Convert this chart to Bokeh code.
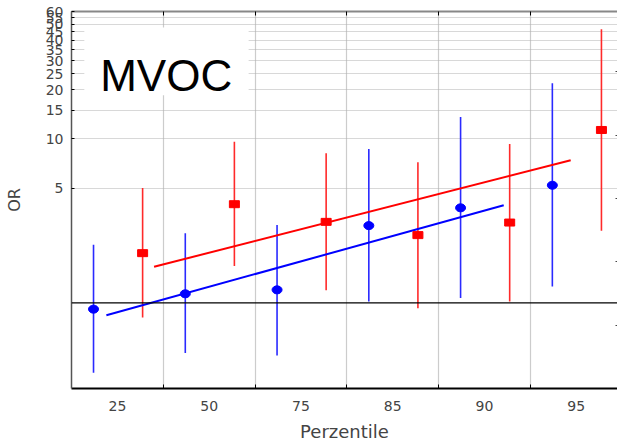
from bokeh.plotting import figure
from bokeh.models import (Range1d, FixedTicker, Span, Label, LinearAxis,
                          LinearScale, BoxAnnotation)
from bokeh.embed import file_html
from bokeh.resources import INLINE

# ---- data ----
categories = ["25", "50", "75", "85", "90", "95"]
blue_or = [0.915, 1.135, 1.20, 2.96, 3.80, 5.22]
blue_lo = [0.374, 0.494, 0.477, 1.02, 1.07, 1.26]
blue_hi = [2.26, 2.66, 2.99, 8.69, 13.6, 21.9]
red_or = [2.01, 4.00, 3.12, 2.59, 3.09, 11.35]
red_lo = [0.814, 1.68, 1.195, 0.928, 1.02, 2.75]
red_hi = [5.02, 9.63, 8.18, 7.21, 9.32, 46.7]
blue_trend_x = [0.38, 4.71]
blue_trend_y = [0.84, 3.94]
red_trend_x = [0.90, 5.44]
red_trend_y = [1.66, 7.41]
y_ticks = [5, 10, 15, 20, 25, 30, 35, 40, 45, 50, 55, 60]

BLUE_OFF = 0.24
RED_OFF = 0.775
blue_x = [i + BLUE_OFF for i in range(len(categories))]
red_x = [i + RED_OFF for i in range(len(categories))]
centers = [i + 0.5 for i in range(len(categories))]
bounds = [i for i in range(1, len(categories))]

X_MAX = 5.95
Y_MIN, Y_MAX = 0.3, 60

p = figure(frame_width=546, frame_height=377, y_axis_type="log",
           x_range=Range1d(0, X_MAX), y_range=Range1d(Y_MIN, Y_MAX),
           output_backend="svg", toolbar_location=None,
           min_border_left=71, min_border_top=11, min_border_right=0,
           min_border_bottom=50)
p.outline_line_color = None
p.background_fill_color = "white"

# grids
p.xgrid.ticker = FixedTicker(ticks=bounds)
p.xgrid.grid_line_color = "#cccccc"
p.xgrid.grid_line_width = 1.2
p.ygrid.ticker = FixedTicker(ticks=y_ticks)
p.ygrid.grid_line_color = "#b0b0b0"
p.ygrid.grid_line_dash = "1 1"
p.ygrid.grid_line_width = 1

# x axis
xa = p.xaxis[0]
xa.ticker = FixedTicker(ticks=centers, minor_ticks=bounds)
xa.major_label_overrides = {c: lab for c, lab in zip(centers, categories)}
xa.major_tick_line_color = None
xa.major_tick_out = 0
xa.minor_tick_in = 4
xa.minor_tick_out = 0
xa.minor_tick_line_color = "black"
xa.axis_line_color = "black"
xa.axis_line_width = 2
xa.major_label_text_font = "DejaVu Sans"
xa.major_label_text_font_size = "14px"
xa.major_label_standoff = 12
xa.axis_label = "Perzentile"
xa.axis_label_text_font = "DejaVu Sans"
xa.axis_label_text_font_size = "18px"
xa.axis_label_text_font_style = "normal"
xa.axis_label_standoff = 7

# y axis
ya = p.yaxis[0]
ya.ticker = FixedTicker(ticks=y_ticks)
ya.major_label_overrides = {t: str(t) for t in y_ticks}
ya.major_tick_in = 3
ya.major_tick_out = 0
ya.minor_tick_line_color = None
ya.axis_line_color = "#555555"
ya.axis_line_width = 1.5
ya.major_label_text_font = "DejaVu Sans"
ya.major_label_text_font_size = "14px"
ya.major_label_standoff = 8
ya.axis_label = "OR"
ya.axis_label_text_font = "DejaVu Sans"
ya.axis_label_text_font_size = "16px"
ya.axis_label_text_font_style = "normal"
ya.axis_label_standoff = 19

# top border with small inward tick marks (no labels)
top = LinearAxis(ticker=FixedTicker(ticks=bounds))
top.major_label_overrides = {b: "" for b in bounds}
top.major_label_standoff = 0
top.major_tick_in = 4
top.major_tick_out = 0
top.minor_tick_line_color = None
top.axis_line_color = "#888888"
top.axis_line_width = 2
p.add_layout(top, "above")

# small tick marks at the right edge (no labels)
p.extra_y_ranges = {"r": Range1d(0, X_MAX)}
p.extra_y_scales = {"r": LinearScale()}
right = LinearAxis(y_range_name="r", ticker=FixedTicker(ticks=bounds))
right.major_label_overrides = {b: "" for b in bounds}
right.major_label_standoff = 0
right.major_tick_in = 2
right.major_tick_out = 0
right.major_tick_line_color = "#444444"
right.minor_tick_line_color = None
right.axis_line_color = None
p.add_layout(right, "right")

# reference line at OR = 1
p.add_layout(Span(location=1, dimension="width", line_color="black", line_width=1.3))

# error bars
p.segment(x0=blue_x, y0=blue_lo, x1=blue_x, y1=blue_hi, line_color="#2a2aff", line_width=1.6)
p.segment(x0=red_x, y0=red_lo, x1=red_x, y1=red_hi, line_color="#ff2a2a", line_width=1.6)

# trend lines
p.line(blue_trend_x, blue_trend_y, line_color="blue", line_width=2)
p.line(red_trend_x, red_trend_y, line_color="red", line_width=2)

# markers
p.ellipse(x=blue_x, y=blue_or, width=10, height=8, width_units="screen",
          height_units="screen", fill_color="blue", line_color="blue")
p.rect(x=red_x, y=red_or, width=10, height=7, width_units="screen",
       height_units="screen", fill_color="red", line_color="red")

# title box
p.add_layout(BoxAnnotation(left=0.14, right=1.93, bottom=18.5, top=48,
                           fill_color="white", fill_alpha=1, line_color=None))
p.add_layout(Label(x=0.313, y=24.4, text="MVOC", text_font="Liberation Sans",
                   text_font_size="44px", text_color="black",
                   text_baseline="alphabetic"))

open("out.html", "w").write(file_html(p, INLINE))
